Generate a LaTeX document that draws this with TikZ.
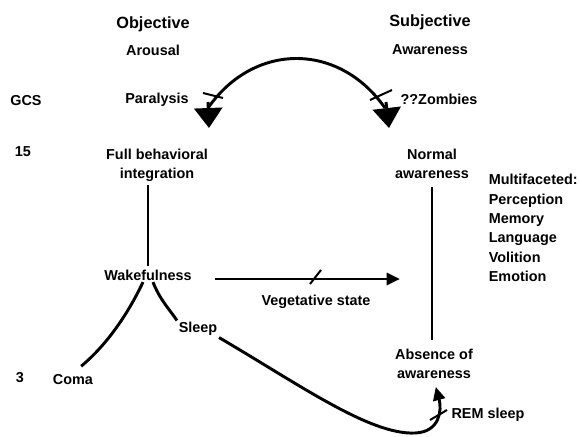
\documentclass[tikz,border=0pt]{standalone}
\usepackage{fontspec}
\setmainfont{Liberation Sans}
\usetikzlibrary{arrows.meta}

\tikzset{every picture/.style={line width=0.75pt}}
\tikzset{
  lbl/.style={font=\bfseries\fontsize{10.8}{14}\selectfont, align=center, inner sep=1pt},
  ttl/.style={font=\bfseries\fontsize{12.2}{14}\selectfont, inner sep=1pt},
  link/.style={line width=2.2pt},
  tick/.style={line width=1.5pt},
  bigtip/.style={-{Triangle[length=15pt,width=21pt]}},
  smalltip/.style={-{Triangle[length=10pt,width=9pt]}},
}

\begin{document}
\begin{tikzpicture}[x=0.75pt,y=0.75pt,yscale=-1,xscale=1]
\path[use as bounding box] (0,0) rectangle (580,436); %set diagram size

% Headings
\node[ttl] (obj) at (153,24) {Objective};
\node[lbl] (arou) at (153,50) {Arousal};
\node[ttl] (subj) at (430,22) {Subjective};
\node[lbl] (awar) at (430,50) {Awareness};

% GCS scale
\node[lbl] (gcs) at (26,101) {GCS};
\node[lbl] (g15) at (23,152) {15};
\node[lbl] (g3) at (20,378) {3};

% Text Node
\node[lbl] (paral) at (157,100) {Paralysis};
\node[lbl] (zomb) at (439,99) {??Zombies};
\node[lbl] (full) at (157,165) {Full behavioral\\integration};
\node[lbl] (normal) at (432,164) {Normal\\awareness};
\node[lbl, align=left, anchor=west, font=\bfseries\fontsize{10.8}{14.5}\selectfont] (multi) at (487,228) {Multifaceted:\\Perception\\Memory\\Language\\Volition\\Emotion};
\node[lbl] (wake) at (148,275) {Wakefulness};
\node[lbl] (veg) at (316,302) {Vegetative state};
\node[lbl] (sleep) at (198,329) {Sleep};
\node[lbl] (coma) at (73,380) {Coma};
\node[lbl] (absence) at (434,364) {Absence of\\awareness};
\node[lbl] (rem) at (488,415) {REM sleep};

\coordinate (parL) at (209,128);
\coordinate (zomR) at (389,128);
\coordinate (vegtip) at (400,279);

% arc between the two columns
\draw[link] (208,108) .. controls (254,42) and (339,42) .. (385,108);
\draw[link, bigtip] (208,102) -- (parL);
\draw[link, bigtip] (386,102) -- (zomR);
\draw[tick] (203,93) -- (223,98);
\draw[tick] (370,100) -- (392,90);

% left column
\draw[link, shorten <=1.5pt, shorten >=1.5pt] (full.south -| wake.north) -- (wake.north);
\draw[link, shorten >=8pt] ([xshift=-3.75pt]wake.south) .. controls (125,320) and (103,348) .. (coma.north);
\draw[link] ([xshift=3.75pt]wake.south) .. controls (160,300) and (170,310) .. (sleep.north west);

% right column
\draw[link, shorten <=5pt, shorten >=6pt] (normal.south) -- (normal.south |- absence.north);

% vegetative state
\draw[link, smalltip, shorten <=16pt] (wake.east |- vegtip) -- (vegtip);
\draw[tick] (310,284) -- (321,270);

% sleep to REM
\draw[link, smalltip, shorten >=5pt] (sleep.south east) .. controls (300,385) and (370,435) .. (415,433) .. controls (440,432) and (442,410) .. (absence.south);
\draw[tick] (430,420) -- (447,410);
\end{tikzpicture}
\end{document}
